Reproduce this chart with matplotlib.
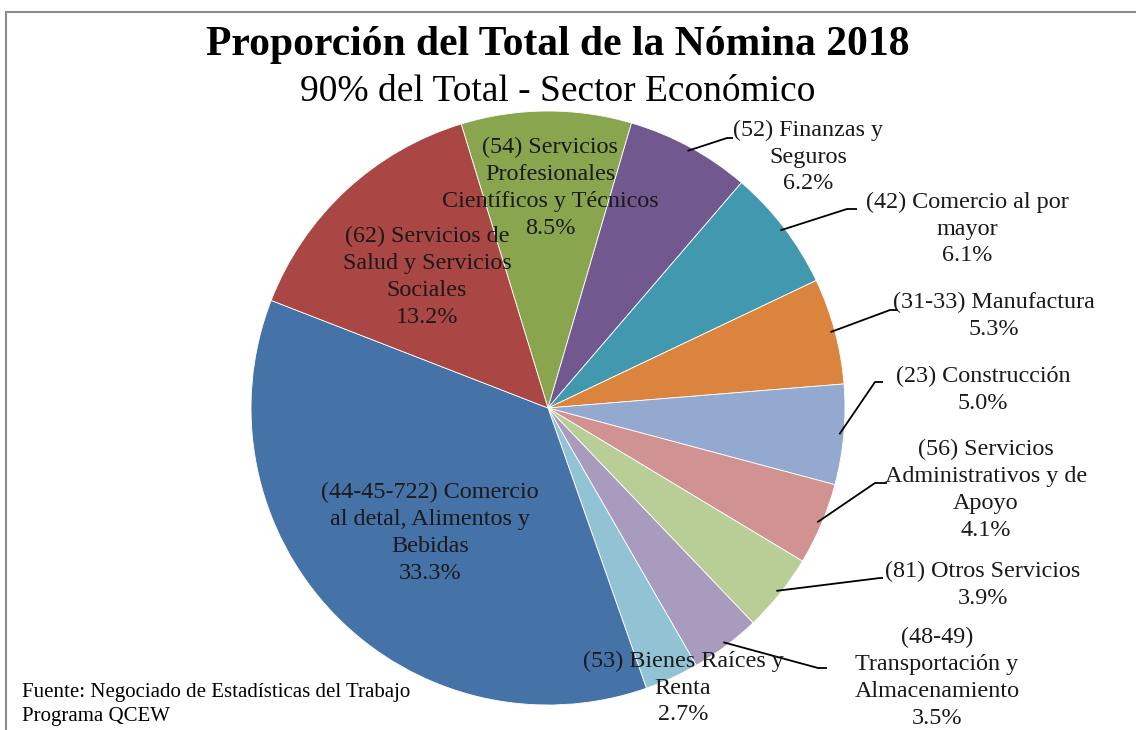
import numpy as np
import matplotlib.pyplot as plt
from matplotlib.patches import Rectangle

plt.rcParams['font.family'] = ['Liberation Serif', 'DejaVu Serif']

# slices in clockwise order, starting with (54)
sectors = ["(54) Servicios\nProfesionales\nCientíficos y Técnicos",
           "(52) Finanzas y\nSeguros",
           "(42) Comercio al por\nmayor",
           "(31-33) Manufactura",
           "(23) Construcción",
           "(56) Servicios\nAdministrativos y de\nApoyo",
           "(81) Otros Servicios",
           "(48-49)\nTransportación y\nAlmacenamiento",
           "(53) Bienes Raíces y\nRenta",
           "(44-45-722) Comercio\nal detal, Alimentos y\nBebidas",
           "(62) Servicios de\nSalud y Servicios\nSociales"]
shares = [8.5, 6.2, 6.1, 5.3, 5.0, 4.1, 3.9, 3.5, 2.7, 33.3, 13.2]
colors = ["#89A54E", "#71588F", "#4198AF", "#DB843D", "#93A9CF", "#D19392",
          "#B9CD96", "#A99BBD", "#92C3D5", "#4572A7", "#AA4643"]

W, H = 1136, 730
# label centres in pixel coords (x, y from top) and leader elbows (None = no line)
label_pos = [(550, 188), (808, 157), (967, 229), (994, 316), (983, 390), (986, 490),
             (983, 585), (937, 678), (683, 688), (430, 533), (427, 277)]
elbows = [None, [(727, 138), (733, 138)], [(847, 209), (857, 209)],
          [(890, 310), (898, 310)], [(875, 382), (883, 382)],
          [(875, 483), (887, 483)], [(880, 578), (883, 578)],
          [(818, 668), (827, 668)], None, None, None]

cx, cy, R = 548, 408, 297

def Y(y):
    return H - y

fig = plt.figure(figsize=(W / 100, H / 100), dpi=100)
ax = fig.add_axes([0, 0, 1, 1])
wedges, _ = ax.pie(shares, colors=colors, startangle=107, counterclock=False,
                   center=(cx, Y(cy)), radius=R,
                   wedgeprops=dict(edgecolor='white', linewidth=0.6))
ax.set_xlim(0, W)
ax.set_ylim(0, H)
ax.set_aspect('equal')
ax.axis('off')

for w, name, val, (lx, ly), elb in zip(wedges, sectors, shares, label_pos, elbows):
    ax.text(lx, Y(ly), f"{name}\n{val:.1f}%", ha='center', va='center',
            fontsize=17.4, linespacing=1.36, color='#1a1a1a')
    if elb is not None:
        mid = np.deg2rad((w.theta1 + w.theta2) / 2)
        sx = cx + 0.985 * R * np.cos(mid)
        sy = Y(cy) + 0.985 * R * np.sin(mid)
        xs = [sx] + [p[0] for p in elb]
        ys = [sy] + [Y(p[1]) for p in elb]
        ax.plot(xs, ys, color='black', lw=1.3, solid_capstyle='butt')

ax.text(558, Y(45), "Proporción del Total de la Nómina 2018", ha='center', va='center',
        fontsize=30, fontweight='bold')
ax.text(558, Y(92), "90% del Total - Sector Económico", ha='center', va='center',
        fontsize=27)
ax.text(22, Y(692), "Fuente: Negociado de Estadísticas del Trabajo", ha='left',
        va='center', fontsize=15)
ax.text(22, Y(716), "Programa QCEW", ha='left', va='center', fontsize=15)

# chart area border (cropped on right and bottom)
fig.patches.append(Rectangle((6 / W, -0.1), 1.2, (H - 12) / H + 0.1,
                             transform=fig.transFigure, fill=False,
                             edgecolor='#8c8c8c', lw=1.5))

fig.savefig("out.png", dpi=100)
